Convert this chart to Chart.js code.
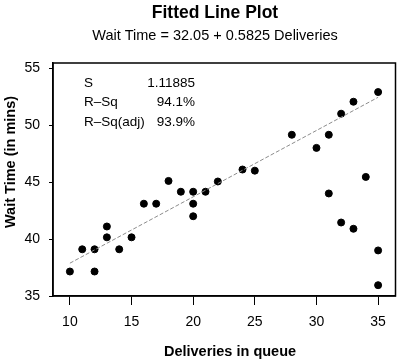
<!DOCTYPE html>
<html>
<head>
<meta charset="utf-8">
<title>Fitted Line Plot</title>
<script src="https://cdn.jsdelivr.net/npm/chart.js@4/dist/chart.umd.min.js"></script>
<style>
  html, body { margin: 0; padding: 0; background: #fff; }
  #wrap { width: 400px; height: 362px; }
</style>
</head>
<body>
<div id="wrap"><canvas id="chart"></canvas></div>
<script>
  /* ===== Data ===== */
  const deliveries = [10, 11, 12, 12, 13, 13, 14, 15, 16, 17, 18, 19, 20, 20, 20, 21, 22, 24, 25, 28, 30, 31, 31, 32, 32, 33, 33, 34, 35, 35, 35];
  const waitTimes  = [37.15, 39.1, 39.1, 37.15, 41.1, 40.15, 39.1, 40.15, 43.1, 43.1, 45.1, 44.15, 44.15, 43.1, 42.0, 44.15, 45.05, 46.1, 46.0, 49.15, 48.0, 49.15, 44.0, 51.0, 41.45, 52.05, 40.9, 45.45, 52.9, 39.0, 35.95];
  const fitX = [10, 35];
  const fitY = [37.88, 52.44];
  const xTicks = [10, 15, 20, 25, 30, 35];
  const yTicks = [35, 40, 45, 50, 55];
  const statLabels = ['S', 'R\u2013Sq', 'R\u2013Sq(adj)'];
  const statValues = ['1.11885', '94.1%', '93.9%'];

  const FONT = "'Liberation Sans', Arial, sans-serif";

  /* titles, frame and the stats block */
  const decorPlugin = {
    id: 'decor',
    afterDraw(chart) {
      const { ctx, chartArea: a } = chart;
      ctx.save();
      ctx.fillStyle = '#000';
      ctx.textBaseline = 'alphabetic';
      ctx.textAlign = 'center';

      ctx.font = 'bold 17.5px ' + FONT;
      ctx.fillText('Fitted Line Plot', 215, 18);
      ctx.font = '14.5px ' + FONT;
      ctx.fillText('Wait Time = 32.05 + 0.5825 Deliveries', 215, 40);

      ctx.font = 'bold 14.5px ' + FONT;
      ctx.fillText('Deliveries in queue', 230, 356);
      ctx.save();
      ctx.translate(15, 162);
      ctx.rotate(-Math.PI / 2);
      ctx.fillText('Wait Time (in mins)', 0, 0);
      ctx.restore();

      ctx.strokeStyle = '#000';
      ctx.lineWidth = 1.5;
      ctx.strokeRect(a.left, a.top, a.right - a.left, a.bottom - a.top);

      ctx.font = '13.5px ' + FONT;
      ctx.textBaseline = 'middle';
      statLabels.forEach((lbl, i) => {
        const y = a.top + 20 + i * 19.5;
        ctx.textAlign = 'left';
        ctx.fillText(lbl, a.left + 31, y);
        ctx.textAlign = 'right';
        ctx.fillText(statValues[i], a.left + 142, y);
      });
      ctx.restore();
    }
  };

  new Chart(document.getElementById('chart'), {
    type: 'scatter',
    data: {
      datasets: [
        {
          type: 'line',
          data: fitX.map((x, i) => ({ x, y: fitY[i] })),
          borderColor: '#8c8c8c',
          borderWidth: 1,
          borderDash: [4, 2],
          pointRadius: 0,
          fill: false
        },
        {
          data: deliveries.map((x, i) => ({ x, y: waitTimes[i] })),
          backgroundColor: '#000',
          borderColor: '#000',
          pointRadius: 3.5,
          pointHoverRadius: 3.5
        }
      ]
    },
    options: {
      responsive: true,
      maintainAspectRatio: false,
      animation: false,
      layout: { padding: { left: 0, right: 3, top: 63, bottom: 0 } },
      plugins: {
        legend: { display: false },
        tooltip: { enabled: false },
        title: { display: false }
      },
      scales: {
        x: {
          type: 'linear',
          min: 8.63,
          max: 36.41,
          afterBuildTicks: s => { s.ticks = xTicks.map(v => ({ value: v })); },
          afterFit: s => { s.height = 66; },
          border: { display: true, color: '#000', width: 1.5 },
          grid: { display: true, drawOnChartArea: false, drawTicks: true, tickLength: 9, color: '#000' },
          ticks: { color: '#000', font: { family: FONT, size: 14 }, padding: 9, maxRotation: 0 }
        },
        y: {
          type: 'linear',
          min: 35,
          max: 55.45,
          afterBuildTicks: s => { s.ticks = yTicks.map(v => ({ value: v })); },
          afterFit: s => { s.width = 53; },
          border: { display: true, color: '#000', width: 1.5 },
          grid: { display: true, drawOnChartArea: false, drawTicks: true, tickLength: 4, color: '#000' },
          ticks: { color: '#000', font: { family: FONT, size: 14 }, padding: 9 }
        }
      }
    },
    plugins: [decorPlugin]
  });
</script>
</body>
</html>
